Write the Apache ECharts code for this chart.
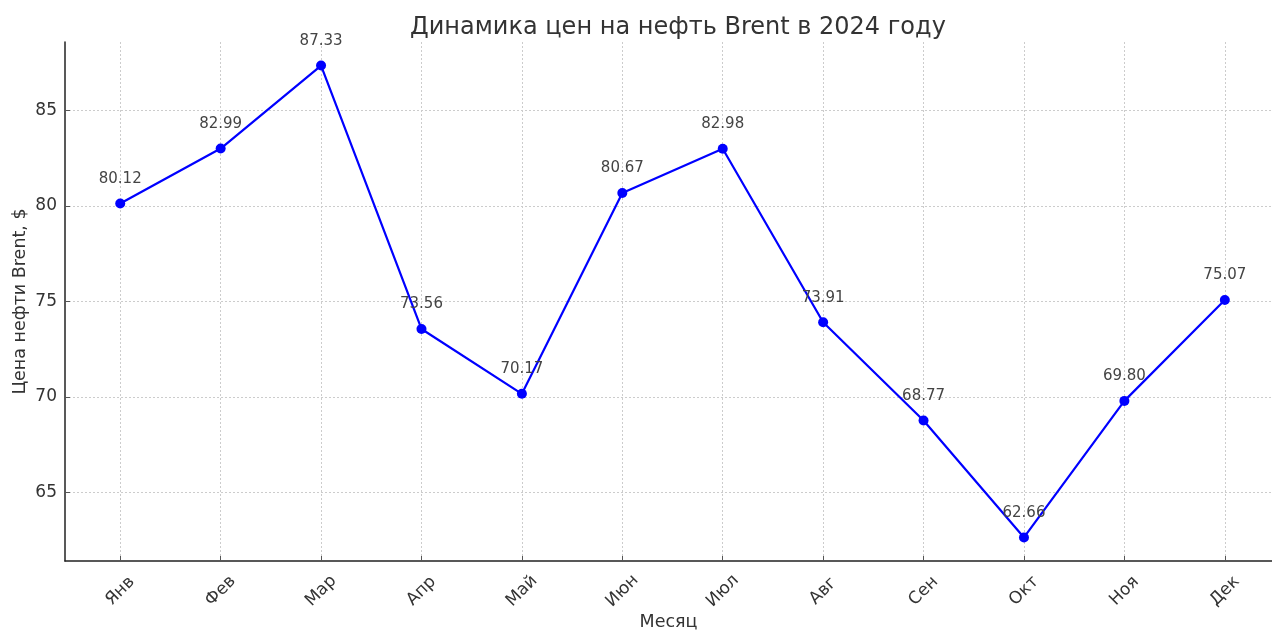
<!DOCTYPE html>
<html>
<head>
<meta charset="utf-8">
<script src="https://cdn.jsdelivr.net/npm/echarts@6/dist/echarts.min.js"></script>
<style>html,body{margin:0;padding:0;background:#fff;}#c{width:1272px;height:631px;}</style>
</head>
<body>
<div id="c"></div>
<script>
const months = ['Янв','Фев','Мар','Апр','Май','Июн','Июл','Авг','Сен','Окт','Ноя','Дек'];
const prices = [80.12, 82.99, 87.33, 73.56, 70.17, 80.67, 82.98, 73.91, 68.77, 62.66, 69.80, 75.07];
const yTicks = [65, 70, 75, 80, 85];

const idx = months.map((m, i) => i);
const font = 'DejaVu Sans';
const chart = echarts.init(document.getElementById('c'));
chart.setOption({
  animation: false,
  backgroundColor: '#fff',
  title: {
    text: 'Динамика цен на нефть Brent в 2024 году',
    left: 405, top: 11,
    textStyle: {fontFamily: font, fontSize: 24, fontWeight: 'normal', color: '#333'}
  },
  grid: {left: 65, right: 0, top: 42, bottom: 70, containLabel: false, outerBoundsMode: 'none'},
  xAxis: {
    type: 'value', min: -0.55, max: 11.47,
    name: 'Месяц', nameLocation: 'middle', nameGap: 52, nameMoveOverlap: false,
    nameTextStyle: {fontFamily: font, fontSize: 17.5, color: '#333'},
    axisLine: {show: true, onZero: false, lineStyle: {color: '#222', width: 1.5}},
    axisTick: {show: true, inside: true, customValues: idx, length: 5, lineStyle: {color: '#555'}},
    axisLabel: {
      customValues: idx, rotate: 45, align: 'center', verticalAlign: 'middle', margin: 30,
      fontFamily: font, fontSize: 17, color: '#333',
      formatter: v => months[Math.round(v)]
    },
    splitLine: {show: true, lineStyle: {color: '#ccc', type: [2, 2], width: 1}}
  },
  yAxis: {
    type: 'value', min: 61.43, max: 88.56,
    name: 'Цена нефти Brent, $', nameLocation: 'middle', nameGap: 36, nameMoveOverlap: false,
    nameTextStyle: {fontFamily: font, fontSize: 17.5, color: '#333'},
    axisLine: {show: true, onZero: false, lineStyle: {color: '#222', width: 1.5}},
    axisTick: {show: true, inside: true, customValues: yTicks, length: 5, lineStyle: {color: '#555'}},
    axisLabel: {customValues: yTicks, fontFamily: font, fontSize: 17, color: '#333', margin: 8},
    splitLine: {show: true, lineStyle: {color: '#ccc', type: [2, 2], width: 1}}
  },
  series: [{
    type: 'line',
    data: prices.map((p, i) => [i, p]),
    symbol: 'circle', symbolSize: 10,
    itemStyle: {color: '#0000ff'},
    lineStyle: {color: '#0000ff', width: 2.2},
    label: {
      show: true, position: 'top', distance: 12,
      fontFamily: font, fontSize: 15, color: '#444',
      formatter: p => p.value[1].toFixed(2)
    },
    z: 5
  }]
});
</script>
</body>
</html>
